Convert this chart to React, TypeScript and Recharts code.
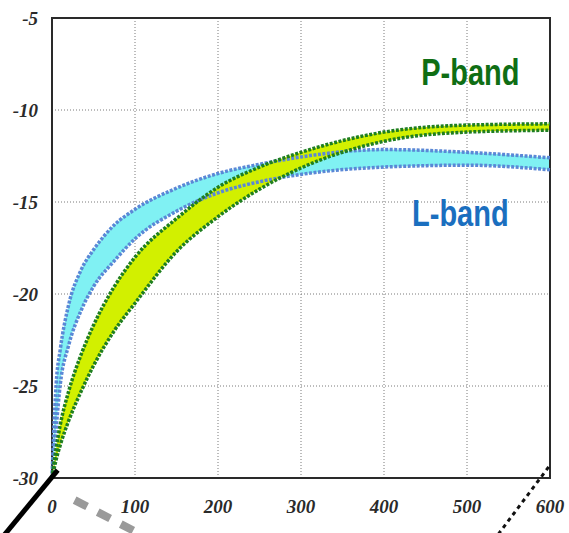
import {
  ComposedChart,
  Area,
  Line,
  XAxis,
  YAxis,
  CartesianGrid,
  ReferenceArea,
  ReferenceLine,
  ReferenceDot,
} from "recharts";

// distance samples along the x axis
const X_VALUES = [0, 2, 5, 10, 20, 35, 50, 75, 100, 150, 200, 250, 300, 400, 500, 600];

// L-band envelope
const L_UPPER = [-30, -27.6, -24.9, -23.0, -20.6, -18.7, -17.6, -16.25, -15.4, -14.25, -13.45, -12.95, -12.55, -12.15, -12.3, -12.6];
const L_LOWER = [-30, -28.9, -27.3, -24.9, -22.8, -20.9, -19.6, -18.2, -17.0, -15.5, -14.5, -13.9, -13.5, -13.1, -13.0, -13.25];

// P-band envelope
const P_UPPER = [-30, -29.3, -28.4, -27.1, -25.3, -23.3, -21.7, -19.6, -18.0, -15.9, -14.2, -13.1, -12.3, -11.2, -10.82, -10.75];
const P_LOWER = [-30, -29.6, -29.0, -28.2, -26.9, -25.3, -23.9, -22.0, -20.5, -17.7, -15.8, -14.3, -13.15, -11.7, -11.2, -11.1];

const X_TICKS = [0, 100, 200, 300, 400, 500, 600];
const Y_TICKS = [-30, -25, -20, -15, -10, -5];

// leftover strokes from the surrounding figure (data units)
const BLACK_STROKE = [{ x: 6.9, y: -29.57 }, { x: -63, y: -33.4 }];
const GREY_DASH = [{ x: 27.3, y: -31.2 }, { x: 105.7, y: -33.04 }];
const BLACK_DOTS = [{ x: 598.4, y: -29.4 }, { x: 537, y: -33.1 }];

const data = X_VALUES.map((x, i) => ({
  x,
  lBand: [L_LOWER[i], L_UPPER[i]],
  pBand: [P_LOWER[i], P_UPPER[i]],
  lUpper: L_UPPER[i],
  lLower: L_LOWER[i],
  pUpper: P_UPPER[i],
  pLower: P_LOWER[i],
}));

const tickStyle = {
  fontFamily: "'Liberation Serif', 'DejaVu Serif', serif",
  fontStyle: "italic",
  fontWeight: "bold",
  fontSize: 19,
  fill: "#2a2a2a",
};

const BandLabel = (props: any) => {
  const { viewBox, value, color } = props;
  const cx = viewBox.x + viewBox.width / 2;
  const cy = viewBox.y + viewBox.height / 2;
  return (
    <text
      transform={`translate(${cx} ${cy}) scale(1 1.3)`}
      textAnchor="middle"
      dominantBaseline="central"
      fill={color}
      fontFamily="'Liberation Sans', Arial, sans-serif"
      fontWeight="bold"
      fontSize={29}
    >
      {value}
    </text>
  );
};

const lineProps = {
  type: "monotone" as const,
  strokeWidth: 3.5,
  strokeDasharray: "3 1.5",
  dot: false,
  activeDot: false,
  isAnimationActive: false,
};

export default function App() {
  return (
    <div style={{ position: "absolute", left: 0, top: 0, width: 569, height: 533, background: "#fff" }}>
      <ComposedChart
        width={569}
        height={533}
        data={data}
        margin={{ top: 18, right: 19, bottom: 25, left: 0 }}
      >
        <CartesianGrid stroke="#7a7a7a" strokeDasharray="1 2" />
        <XAxis
          dataKey="x"
          type="number"
          domain={[0, 600]}
          ticks={X_TICKS}
          axisLine={false}
          tickLine={false}
          tickSize={0}
          tickMargin={22}
          height={30}
          tick={tickStyle}
        />
        <YAxis
          type="number"
          domain={[-30, -5]}
          ticks={Y_TICKS}
          axisLine={false}
          tickLine={false}
          tickSize={0}
          tickMargin={14}
          width={52}
          tick={tickStyle}
        />

        <Area dataKey="lBand" type="monotone" fill="#80f1f3" fillOpacity={1} stroke="none" isAnimationActive={false} />
        <Line dataKey="lUpper" stroke="#5a88d6" {...lineProps} />
        <Line dataKey="lLower" stroke="#5a88d6" {...lineProps} />

        <Area dataKey="pBand" type="monotone" fill="#d2f000" fillOpacity={1} stroke="none" isAnimationActive={false} />
        <Line dataKey="pUpper" stroke="#1f7f1f" {...lineProps} />
        <Line dataKey="pLower" stroke="#1f7f1f" {...lineProps} />

        <ReferenceArea x1={0} x2={600} y1={-30} y2={-5} fill="none" stroke="#2a2a2a" strokeWidth={2} ifOverflow="visible" />

        <ReferenceLine segment={BLACK_STROKE} stroke="#000" strokeWidth={5} ifOverflow="visible" />
        <ReferenceLine segment={GREY_DASH} stroke="#9a9a9a" strokeWidth={8} strokeDasharray="14 12" ifOverflow="visible" />
        <ReferenceLine segment={BLACK_DOTS} stroke="#111" strokeWidth={3} strokeDasharray="4 4" ifOverflow="visible" />

        <ReferenceDot x={504} y={-7.92} r={0} ifOverflow="visible" label={<BandLabel value="P-band" color="#0f6e14" />} />
        <ReferenceDot x={492} y={-15.61} r={0} ifOverflow="visible" label={<BandLabel value="L-band" color="#1b6fbf" />} />
      </ComposedChart>
    </div>
  );
}
